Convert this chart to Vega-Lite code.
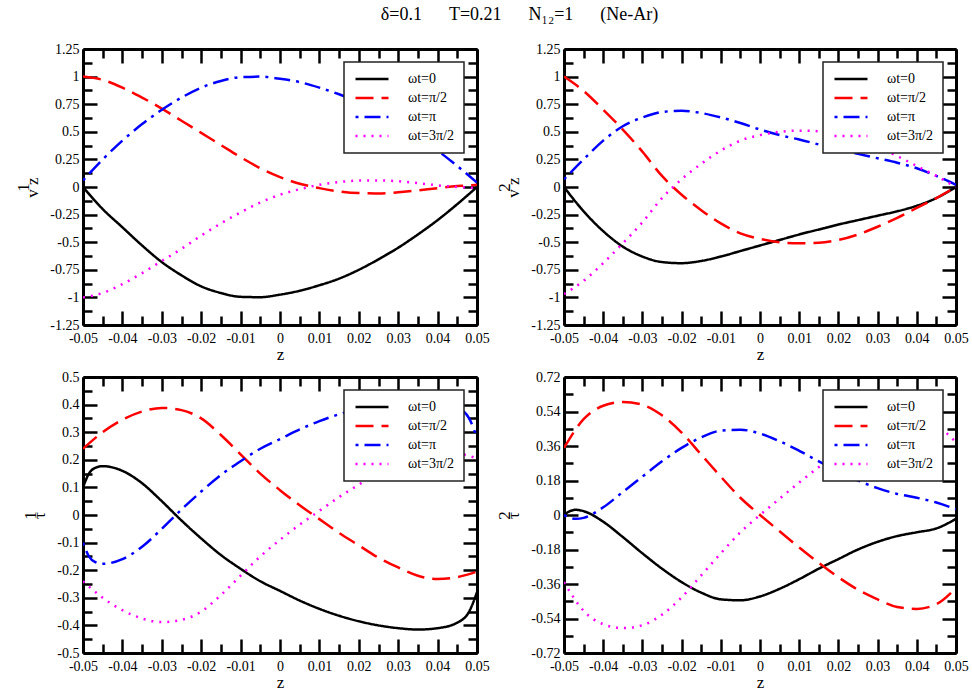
{
"$schema": "https://vega.github.io/schema/vega-lite/v6.json",
"padding": {"left": 14, "top": 6, "right": 5, "bottom": 0},
"title": {"text": "δ=0.1\u00a0\u00a0\u00a0\u00a0\u00a0\u00a0T=0.21\u00a0\u00a0\u00a0\u00a0\u00a0\u00a0N₁₂=1\u00a0\u00a0\u00a0\u00a0\u00a0\u00a0(Ne-Ar)", "font": "Liberation Serif", "fontSize": 18, "fontWeight": "normal", "color": "black", "anchor": "middle", "offset": 18, "dx": 28},
"datasets": {
"v1": [
{"series":"ωt=0","z":-0.05,"value":0},{"series":"ωt=0","z":-0.045,"value":-0.2},{"series":"ωt=0","z":-0.04,"value":-0.365},{"series":"ωt=0","z":-0.035,"value":-0.53},{"series":"ωt=0","z":-0.03,"value":-0.68},{"series":"ωt=0","z":-0.025,"value":-0.8},{"series":"ωt=0","z":-0.02,"value":-0.9},{"series":"ωt=0","z":-0.015,"value":-0.96},{"series":"ωt=0","z":-0.01,"value":-0.995},{"series":"ωt=0","z":-0.005,"value":-0.998},{"series":"ωt=0","z":0,"value":-0.975},{"series":"ωt=0","z":0.005,"value":-0.94},{"series":"ωt=0","z":0.01,"value":-0.89},{"series":"ωt=0","z":0.015,"value":-0.83},{"series":"ωt=0","z":0.02,"value":-0.75},{"series":"ωt=0","z":0.025,"value":-0.655},{"series":"ωt=0","z":0.03,"value":-0.55},{"series":"ωt=0","z":0.035,"value":-0.43},{"series":"ωt=0","z":0.04,"value":-0.3},{"series":"ωt=0","z":0.045,"value":-0.155},{"series":"ωt=0","z":0.05,"value":0},
{"series":"ωt=π/2","z":-0.05,"value":1},{"series":"ωt=π/2","z":-0.045,"value":0.97},{"series":"ωt=π/2","z":-0.04,"value":0.9},{"series":"ωt=π/2","z":-0.035,"value":0.81},{"series":"ωt=π/2","z":-0.03,"value":0.71},{"series":"ωt=π/2","z":-0.025,"value":0.6},{"series":"ωt=π/2","z":-0.02,"value":0.49},{"series":"ωt=π/2","z":-0.015,"value":0.38},{"series":"ωt=π/2","z":-0.01,"value":0.27},{"series":"ωt=π/2","z":-0.005,"value":0.17},{"series":"ωt=π/2","z":0,"value":0.09},{"series":"ωt=π/2","z":0.005,"value":0.03},{"series":"ωt=π/2","z":0.01,"value":-0.01},{"series":"ωt=π/2","z":0.015,"value":-0.04},{"series":"ωt=π/2","z":0.02,"value":-0.055},{"series":"ωt=π/2","z":0.025,"value":-0.058},{"series":"ωt=π/2","z":0.03,"value":-0.048},{"series":"ωt=π/2","z":0.035,"value":-0.03},{"series":"ωt=π/2","z":0.04,"value":-0.01},{"series":"ωt=π/2","z":0.045,"value":0.008},{"series":"ωt=π/2","z":0.05,"value":0.02},
{"series":"ωt=π","z":-0.05,"value":0.06},{"series":"ωt=π","z":-0.045,"value":0.25},{"series":"ωt=π","z":-0.04,"value":0.42},{"series":"ωt=π","z":-0.035,"value":0.57},{"series":"ωt=π","z":-0.03,"value":0.7},{"series":"ωt=π","z":-0.025,"value":0.81},{"series":"ωt=π","z":-0.02,"value":0.9},{"series":"ωt=π","z":-0.015,"value":0.96},{"series":"ωt=π","z":-0.01,"value":0.995},{"series":"ωt=π","z":-0.005,"value":1.0},{"series":"ωt=π","z":0,"value":0.98},{"series":"ωt=π","z":0.005,"value":0.95},{"series":"ωt=π","z":0.01,"value":0.9},{"series":"ωt=π","z":0.015,"value":0.84},{"series":"ωt=π","z":0.02,"value":0.77},{"series":"ωt=π","z":0.025,"value":0.68},{"series":"ωt=π","z":0.03,"value":0.58},{"series":"ωt=π","z":0.035,"value":0.46},{"series":"ωt=π","z":0.04,"value":0.33},{"series":"ωt=π","z":0.045,"value":0.19},{"series":"ωt=π","z":0.05,"value":0.04},
{"series":"ωt=3π/2","z":-0.05,"value":-1},{"series":"ωt=3π/2","z":-0.045,"value":-0.96},{"series":"ωt=3π/2","z":-0.04,"value":-0.88},{"series":"ωt=3π/2","z":-0.035,"value":-0.78},{"series":"ωt=3π/2","z":-0.03,"value":-0.67},{"series":"ωt=3π/2","z":-0.025,"value":-0.56},{"series":"ωt=3π/2","z":-0.02,"value":-0.44},{"series":"ωt=3π/2","z":-0.015,"value":-0.33},{"series":"ωt=3π/2","z":-0.01,"value":-0.23},{"series":"ωt=3π/2","z":-0.005,"value":-0.14},{"series":"ωt=3π/2","z":0,"value":-0.07},{"series":"ωt=3π/2","z":0.005,"value":-0.02},{"series":"ωt=3π/2","z":0.01,"value":0.02},{"series":"ωt=3π/2","z":0.015,"value":0.045},{"series":"ωt=3π/2","z":0.02,"value":0.058},{"series":"ωt=3π/2","z":0.025,"value":0.06},{"series":"ωt=3π/2","z":0.03,"value":0.052},{"series":"ωt=3π/2","z":0.035,"value":0.035},{"series":"ωt=3π/2","z":0.04,"value":0.015},{"series":"ωt=3π/2","z":0.045,"value":0},{"series":"ωt=3π/2","z":0.05,"value":-0.01}
],
"v2": [
{"series":"ωt=0","z":-0.05,"value":0},{"series":"ωt=0","z":-0.045,"value":-0.22},{"series":"ωt=0","z":-0.04,"value":-0.4},{"series":"ωt=0","z":-0.035,"value":-0.54},{"series":"ωt=0","z":-0.03,"value":-0.63},{"series":"ωt=0","z":-0.025,"value":-0.68},{"series":"ωt=0","z":-0.02,"value":-0.69},{"series":"ωt=0","z":-0.015,"value":-0.67},{"series":"ωt=0","z":-0.01,"value":-0.63},{"series":"ωt=0","z":-0.005,"value":-0.58},{"series":"ωt=0","z":0,"value":-0.53},{"series":"ωt=0","z":0.005,"value":-0.48},{"series":"ωt=0","z":0.01,"value":-0.43},{"series":"ωt=0","z":0.015,"value":-0.385},{"series":"ωt=0","z":0.02,"value":-0.34},{"series":"ωt=0","z":0.025,"value":-0.3},{"series":"ωt=0","z":0.03,"value":-0.26},{"series":"ωt=0","z":0.035,"value":-0.22},{"series":"ωt=0","z":0.04,"value":-0.17},{"series":"ωt=0","z":0.045,"value":-0.1},{"series":"ωt=0","z":0.05,"value":0},
{"series":"ωt=π/2","z":-0.05,"value":1},{"series":"ωt=π/2","z":-0.045,"value":0.87},{"series":"ωt=π/2","z":-0.04,"value":0.7},{"series":"ωt=π/2","z":-0.035,"value":0.52},{"series":"ωt=π/2","z":-0.03,"value":0.32},{"series":"ωt=π/2","z":-0.025,"value":0.1},{"series":"ωt=π/2","z":-0.02,"value":-0.07},{"series":"ωt=π/2","z":-0.015,"value":-0.21},{"series":"ωt=π/2","z":-0.01,"value":-0.33},{"series":"ωt=π/2","z":-0.005,"value":-0.42},{"series":"ωt=π/2","z":0,"value":-0.47},{"series":"ωt=π/2","z":0.005,"value":-0.5},{"series":"ωt=π/2","z":0.01,"value":-0.51},{"series":"ωt=π/2","z":0.015,"value":-0.505},{"series":"ωt=π/2","z":0.02,"value":-0.48},{"series":"ωt=π/2","z":0.025,"value":-0.43},{"series":"ωt=π/2","z":0.03,"value":-0.36},{"series":"ωt=π/2","z":0.035,"value":-0.28},{"series":"ωt=π/2","z":0.04,"value":-0.19},{"series":"ωt=π/2","z":0.045,"value":-0.1},{"series":"ωt=π/2","z":0.05,"value":0},
{"series":"ωt=π","z":-0.05,"value":0.07},{"series":"ωt=π","z":-0.045,"value":0.25},{"series":"ωt=π","z":-0.04,"value":0.42},{"series":"ωt=π","z":-0.035,"value":0.55},{"series":"ωt=π","z":-0.03,"value":0.63},{"series":"ωt=π","z":-0.025,"value":0.68},{"series":"ωt=π","z":-0.02,"value":0.69},{"series":"ωt=π","z":-0.015,"value":0.67},{"series":"ωt=π","z":-0.01,"value":0.63},{"series":"ωt=π","z":-0.005,"value":0.58},{"series":"ωt=π","z":0,"value":0.52},{"series":"ωt=π","z":0.005,"value":0.47},{"series":"ωt=π","z":0.01,"value":0.43},{"series":"ωt=π","z":0.015,"value":0.385},{"series":"ωt=π","z":0.02,"value":0.34},{"series":"ωt=π","z":0.025,"value":0.3},{"series":"ωt=π","z":0.03,"value":0.26},{"series":"ωt=π","z":0.035,"value":0.22},{"series":"ωt=π","z":0.04,"value":0.17},{"series":"ωt=π","z":0.045,"value":0.1},{"series":"ωt=π","z":0.05,"value":0.02},
{"series":"ωt=3π/2","z":-0.05,"value":-0.97},{"series":"ωt=3π/2","z":-0.045,"value":-0.85},{"series":"ωt=3π/2","z":-0.04,"value":-0.69},{"series":"ωt=3π/2","z":-0.035,"value":-0.51},{"series":"ωt=3π/2","z":-0.03,"value":-0.32},{"series":"ωt=3π/2","z":-0.025,"value":-0.1},{"series":"ωt=3π/2","z":-0.02,"value":0.07},{"series":"ωt=3π/2","z":-0.015,"value":0.21},{"series":"ωt=3π/2","z":-0.01,"value":0.33},{"series":"ωt=3π/2","z":-0.005,"value":0.42},{"series":"ωt=3π/2","z":0,"value":0.47},{"series":"ωt=3π/2","z":0.005,"value":0.5},{"series":"ωt=3π/2","z":0.01,"value":0.51},{"series":"ωt=3π/2","z":0.015,"value":0.505},{"series":"ωt=3π/2","z":0.02,"value":0.48},{"series":"ωt=3π/2","z":0.025,"value":0.43},{"series":"ωt=3π/2","z":0.03,"value":0.36},{"series":"ωt=3π/2","z":0.035,"value":0.28},{"series":"ωt=3π/2","z":0.04,"value":0.19},{"series":"ωt=3π/2","z":0.045,"value":0.1},{"series":"ωt=3π/2","z":0.05,"value":0}
],
"t1": [
{"series":"ωt=0","z":-0.05,"value":0.1},{"series":"ωt=0","z":-0.0485,"value":0.15},{"series":"ωt=0","z":-0.047,"value":0.17},{"series":"ωt=0","z":-0.045,"value":0.177},{"series":"ωt=0","z":-0.04,"value":0.16},{"series":"ωt=0","z":-0.035,"value":0.115},{"series":"ωt=0","z":-0.03,"value":0.05},{"series":"ωt=0","z":-0.025,"value":-0.02},{"series":"ωt=0","z":-0.02,"value":-0.085},{"series":"ωt=0","z":-0.015,"value":-0.145},{"series":"ωt=0","z":-0.01,"value":-0.195},{"series":"ωt=0","z":-0.005,"value":-0.24},{"series":"ωt=0","z":0,"value":-0.275},{"series":"ωt=0","z":0.005,"value":-0.31},{"series":"ωt=0","z":0.01,"value":-0.34},{"series":"ωt=0","z":0.015,"value":-0.365},{"series":"ωt=0","z":0.02,"value":-0.385},{"series":"ωt=0","z":0.025,"value":-0.4},{"series":"ωt=0","z":0.03,"value":-0.41},{"series":"ωt=0","z":0.035,"value":-0.415},{"series":"ωt=0","z":0.04,"value":-0.41},{"series":"ωt=0","z":0.045,"value":-0.39},{"series":"ωt=0","z":0.048,"value":-0.35},{"series":"ωt=0","z":0.05,"value":-0.28},
{"series":"ωt=π/2","z":-0.05,"value":0.24},{"series":"ωt=π/2","z":-0.045,"value":0.3},{"series":"ωt=π/2","z":-0.04,"value":0.345},{"series":"ωt=π/2","z":-0.035,"value":0.375},{"series":"ωt=π/2","z":-0.03,"value":0.388},{"series":"ωt=π/2","z":-0.025,"value":0.38},{"series":"ωt=π/2","z":-0.02,"value":0.35},{"series":"ωt=π/2","z":-0.015,"value":0.29},{"series":"ωt=π/2","z":-0.01,"value":0.22},{"series":"ωt=π/2","z":-0.005,"value":0.15},{"series":"ωt=π/2","z":0,"value":0.09},{"series":"ωt=π/2","z":0.005,"value":0.035},{"series":"ωt=π/2","z":0.01,"value":-0.015},{"series":"ωt=π/2","z":0.015,"value":-0.065},{"series":"ωt=π/2","z":0.02,"value":-0.11},{"series":"ωt=π/2","z":0.025,"value":-0.155},{"series":"ωt=π/2","z":0.03,"value":-0.19},{"series":"ωt=π/2","z":0.035,"value":-0.22},{"series":"ωt=π/2","z":0.04,"value":-0.232},{"series":"ωt=π/2","z":0.045,"value":-0.225},{"series":"ωt=π/2","z":0.05,"value":-0.205},
{"series":"ωt=π","z":-0.05,"value":-0.1},{"series":"ωt=π","z":-0.0485,"value":-0.15},{"series":"ωt=π","z":-0.047,"value":-0.17},{"series":"ωt=π","z":-0.045,"value":-0.177},{"series":"ωt=π","z":-0.04,"value":-0.16},{"series":"ωt=π","z":-0.035,"value":-0.115},{"series":"ωt=π","z":-0.03,"value":-0.05},{"series":"ωt=π","z":-0.025,"value":0.02},{"series":"ωt=π","z":-0.02,"value":0.085},{"series":"ωt=π","z":-0.015,"value":0.145},{"series":"ωt=π","z":-0.01,"value":0.195},{"series":"ωt=π","z":-0.005,"value":0.24},{"series":"ωt=π","z":0,"value":0.275},{"series":"ωt=π","z":0.005,"value":0.31},{"series":"ωt=π","z":0.01,"value":0.34},{"series":"ωt=π","z":0.015,"value":0.365},{"series":"ωt=π","z":0.02,"value":0.385},{"series":"ωt=π","z":0.025,"value":0.4},{"series":"ωt=π","z":0.03,"value":0.41},{"series":"ωt=π","z":0.035,"value":0.415},{"series":"ωt=π","z":0.04,"value":0.41},{"series":"ωt=π","z":0.045,"value":0.39},{"series":"ωt=π","z":0.048,"value":0.35},{"series":"ωt=π","z":0.05,"value":0.28},
{"series":"ωt=3π/2","z":-0.05,"value":-0.24},{"series":"ωt=3π/2","z":-0.045,"value":-0.3},{"series":"ωt=3π/2","z":-0.04,"value":-0.345},{"series":"ωt=3π/2","z":-0.035,"value":-0.375},{"series":"ωt=3π/2","z":-0.03,"value":-0.388},{"series":"ωt=3π/2","z":-0.025,"value":-0.38},{"series":"ωt=3π/2","z":-0.02,"value":-0.35},{"series":"ωt=3π/2","z":-0.015,"value":-0.29},{"series":"ωt=3π/2","z":-0.01,"value":-0.22},{"series":"ωt=3π/2","z":-0.005,"value":-0.15},{"series":"ωt=3π/2","z":0,"value":-0.09},{"series":"ωt=3π/2","z":0.005,"value":-0.035},{"series":"ωt=3π/2","z":0.01,"value":0.015},{"series":"ωt=3π/2","z":0.015,"value":0.065},{"series":"ωt=3π/2","z":0.02,"value":0.11},{"series":"ωt=3π/2","z":0.025,"value":0.155},{"series":"ωt=3π/2","z":0.03,"value":0.19},{"series":"ωt=3π/2","z":0.035,"value":0.22},{"series":"ωt=3π/2","z":0.04,"value":0.232},{"series":"ωt=3π/2","z":0.045,"value":0.225},{"series":"ωt=3π/2","z":0.05,"value":0.205}
],
"t2": [
{"series":"ωt=0","z":-0.05,"value":0},{"series":"ωt=0","z":-0.0485,"value":0.02},{"series":"ωt=0","z":-0.047,"value":0.027},{"series":"ωt=0","z":-0.045,"value":0.02},{"series":"ωt=0","z":-0.04,"value":-0.035},{"series":"ωt=0","z":-0.035,"value":-0.115},{"series":"ωt=0","z":-0.03,"value":-0.2},{"series":"ωt=0","z":-0.025,"value":-0.28},{"series":"ωt=0","z":-0.02,"value":-0.35},{"series":"ωt=0","z":-0.015,"value":-0.405},{"series":"ωt=0","z":-0.01,"value":-0.44},{"series":"ωt=0","z":-0.005,"value":-0.445},{"series":"ωt=0","z":0,"value":-0.425},{"series":"ωt=0","z":0.005,"value":-0.385},{"series":"ωt=0","z":0.01,"value":-0.335},{"series":"ωt=0","z":0.015,"value":-0.28},{"series":"ωt=0","z":0.02,"value":-0.23},{"series":"ωt=0","z":0.025,"value":-0.18},{"series":"ωt=0","z":0.03,"value":-0.14},{"series":"ωt=0","z":0.035,"value":-0.11},{"series":"ωt=0","z":0.04,"value":-0.09},{"series":"ωt=0","z":0.045,"value":-0.07},{"series":"ωt=0","z":0.05,"value":-0.02},
{"series":"ωt=π/2","z":-0.05,"value":0.35},{"series":"ωt=π/2","z":-0.045,"value":0.5},{"series":"ωt=π/2","z":-0.04,"value":0.57},{"series":"ωt=π/2","z":-0.035,"value":0.59},{"series":"ωt=π/2","z":-0.03,"value":0.575},{"series":"ωt=π/2","z":-0.025,"value":0.52},{"series":"ωt=π/2","z":-0.02,"value":0.43},{"series":"ωt=π/2","z":-0.015,"value":0.315},{"series":"ωt=π/2","z":-0.01,"value":0.2},{"series":"ωt=π/2","z":-0.005,"value":0.09},{"series":"ωt=π/2","z":0,"value":0},{"series":"ωt=π/2","z":0.005,"value":-0.085},{"series":"ωt=π/2","z":0.01,"value":-0.17},{"series":"ωt=π/2","z":0.015,"value":-0.25},{"series":"ωt=π/2","z":0.02,"value":-0.325},{"series":"ωt=π/2","z":0.025,"value":-0.39},{"series":"ωt=π/2","z":0.03,"value":-0.44},{"series":"ωt=π/2","z":0.035,"value":-0.48},{"series":"ωt=π/2","z":0.04,"value":-0.49},{"series":"ωt=π/2","z":0.045,"value":-0.465},{"series":"ωt=π/2","z":0.05,"value":-0.38},
{"series":"ωt=π","z":-0.05,"value":0},{"series":"ωt=π","z":-0.0485,"value":-0.015},{"series":"ωt=π","z":-0.047,"value":-0.02},{"series":"ωt=π","z":-0.045,"value":-0.015},{"series":"ωt=π","z":-0.04,"value":0.04},{"series":"ωt=π","z":-0.035,"value":0.12},{"series":"ωt=π","z":-0.03,"value":0.2},{"series":"ωt=π","z":-0.025,"value":0.28},{"series":"ωt=π","z":-0.02,"value":0.35},{"series":"ωt=π","z":-0.015,"value":0.405},{"series":"ωt=π","z":-0.01,"value":0.44},{"series":"ωt=π","z":-0.005,"value":0.445},{"series":"ωt=π","z":0,"value":0.425},{"series":"ωt=π","z":0.005,"value":0.385},{"series":"ωt=π","z":0.01,"value":0.335},{"series":"ωt=π","z":0.015,"value":0.28},{"series":"ωt=π","z":0.02,"value":0.23},{"series":"ωt=π","z":0.025,"value":0.18},{"series":"ωt=π","z":0.03,"value":0.14},{"series":"ωt=π","z":0.035,"value":0.11},{"series":"ωt=π","z":0.04,"value":0.09},{"series":"ωt=π","z":0.045,"value":0.065},{"series":"ωt=π","z":0.05,"value":0.03},
{"series":"ωt=3π/2","z":-0.05,"value":-0.35},{"series":"ωt=3π/2","z":-0.045,"value":-0.5},{"series":"ωt=3π/2","z":-0.04,"value":-0.57},{"series":"ωt=3π/2","z":-0.035,"value":-0.59},{"series":"ωt=3π/2","z":-0.03,"value":-0.575},{"series":"ωt=3π/2","z":-0.025,"value":-0.52},{"series":"ωt=3π/2","z":-0.02,"value":-0.43},{"series":"ωt=3π/2","z":-0.015,"value":-0.315},{"series":"ωt=3π/2","z":-0.01,"value":-0.2},{"series":"ωt=3π/2","z":-0.005,"value":-0.09},{"series":"ωt=3π/2","z":0,"value":0},{"series":"ωt=3π/2","z":0.005,"value":0.085},{"series":"ωt=3π/2","z":0.01,"value":0.17},{"series":"ωt=3π/2","z":0.015,"value":0.25},{"series":"ωt=3π/2","z":0.02,"value":0.325},{"series":"ωt=3π/2","z":0.025,"value":0.39},{"series":"ωt=3π/2","z":0.03,"value":0.44},{"series":"ωt=3π/2","z":0.035,"value":0.48},{"series":"ωt=3π/2","z":0.04,"value":0.49},{"series":"ωt=3π/2","z":0.045,"value":0.465},{"series":"ωt=3π/2","z":0.05,"value":0.38}
]
},
"columns": 2,
"spacing": {"row": 8, "column": 5},
"resolve": {"scale": {"color": "independent", "strokeDash": "independent"}},
"concat": [
{
"width": 394, "height": 276,
"data": {"name": "v1"},
"layer": [
{"mark": {"type": "line", "strokeWidth": 2.5, "interpolate": "monotone", "clip": true},
 "encoding": {
  "x": {"field": "z", "type": "quantitative", "scale": {"domain": [-0.05, 0.05], "nice": false, "zero": false}, "axis": {"orient": "bottom", "values": [-0.05,-0.04,-0.03,-0.02,-0.01,0,0.01,0.02,0.03,0.04,0.05], "labelExpr": "'' + datum.value", "tickSize": -14, "labelPadding": 20, "title": "z", "titlePadding": 1}},
  "y": {"field": "value", "type": "quantitative", "scale": {"domain": [-1.25, 1.25], "nice": false, "zero": false}, "axis": {"orient": "left", "values": [-1.25,-1,-0.75,-0.5,-0.25,0,0.25,0.5,0.75,1,1.25], "labelExpr": "'' + datum.value", "tickSize": -14, "labelPadding": 18, "title": ["\u00a0\u00a01", "v z"], "titlePadding": 8}},
  "color": {"field": "series", "type": "nominal", "scale": {"domain": ["ωt=0","ωt=π/2","ωt=π","ωt=3π/2"], "range": ["#000000","#ff0000","#0000ff","#ff00ff"]}},
  "strokeDash": {"field": "series", "type": "nominal", "scale": {"domain": ["ωt=0","ωt=π/2","ωt=π","ωt=3π/2"], "range": [[1,0],[18,8],[3,6,16,6],[2,6]]}}
 }},
{"mark": {"type": "point", "opacity": 0},
 "encoding": {
  "x": {"field": "z", "type": "quantitative", "scale": {"domain": [-0.05, 0.05], "nice": false, "zero": false}, "axis": {"orient": "top", "values": [-0.05,-0.04,-0.03,-0.02,-0.01,0,0.01,0.02,0.03,0.04,0.05], "labels": false, "tickSize": -14, "title": null}},
  "y": {"field": "value", "type": "quantitative", "scale": {"domain": [-1.25, 1.25], "nice": false, "zero": false}, "axis": {"orient": "right", "values": [-1.25,-1,-0.75,-0.5,-0.25,0,0.25,0.5,0.75,1,1.25], "labels": false, "tickSize": -14, "title": null}}
 }},
{"mark": {"type": "point", "opacity": 0},
 "encoding": {
  "x": {"field": "z", "type": "quantitative", "scale": {"domain": [-0.05, 0.05], "nice": false, "zero": false}, "axis": {"orient": "bottom", "values": [-0.045,-0.035,-0.025,-0.015,-0.005,0.005,0.015,0.025,0.035,0.045], "labels": false, "domain": false, "tickSize": -9, "title": null}},
  "y": {"field": "value", "type": "quantitative", "scale": {"domain": [-1.25, 1.25], "nice": false, "zero": false}, "axis": {"orient": "left", "values": [-1.125,-0.875,-0.625,-0.375,-0.125,0.125,0.375,0.625,0.875,1.125], "labels": false, "domain": false, "tickSize": -9, "title": null}}
 }},
{"mark": {"type": "point", "opacity": 0},
 "encoding": {
  "x": {"field": "z", "type": "quantitative", "scale": {"domain": [-0.05, 0.05], "nice": false, "zero": false}, "axis": {"orient": "top", "values": [-0.045,-0.035,-0.025,-0.015,-0.005,0.005,0.015,0.025,0.035,0.045], "labels": false, "domain": false, "tickSize": -9, "title": null}},
  "y": {"field": "value", "type": "quantitative", "scale": {"domain": [-1.25, 1.25], "nice": false, "zero": false}, "axis": {"orient": "right", "values": [-1.125,-0.875,-0.625,-0.375,-0.125,0.125,0.375,0.625,0.875,1.125], "labels": false, "domain": false, "tickSize": -9, "title": null}}
 }}
]
},
{
"width": 392, "height": 276,
"data": {"name": "v2"},
"layer": [
{"mark": {"type": "line", "strokeWidth": 2.5, "interpolate": "monotone", "clip": true},
 "encoding": {
  "x": {"field": "z", "type": "quantitative", "scale": {"domain": [-0.05, 0.05], "nice": false, "zero": false}, "axis": {"orient": "bottom", "values": [-0.05,-0.04,-0.03,-0.02,-0.01,0,0.01,0.02,0.03,0.04,0.05], "labelExpr": "'' + datum.value", "tickSize": -14, "labelPadding": 20, "title": "z", "titlePadding": 1}},
  "y": {"field": "value", "type": "quantitative", "scale": {"domain": [-1.25, 1.25], "nice": false, "zero": false}, "axis": {"orient": "left", "values": [-1.25,-1,-0.75,-0.5,-0.25,0,0.25,0.5,0.75,1,1.25], "labelExpr": "'' + datum.value", "tickSize": -14, "labelPadding": 18, "title": ["\u00a0\u00a02", "v z"], "titlePadding": 8}},
  "color": {"field": "series", "type": "nominal", "scale": {"domain": ["ωt=0","ωt=π/2","ωt=π","ωt=3π/2"], "range": ["#000000","#ff0000","#0000ff","#ff00ff"]}},
  "strokeDash": {"field": "series", "type": "nominal", "scale": {"domain": ["ωt=0","ωt=π/2","ωt=π","ωt=3π/2"], "range": [[1,0],[18,8],[3,6,16,6],[2,6]]}}
 }},
{"mark": {"type": "point", "opacity": 0},
 "encoding": {
  "x": {"field": "z", "type": "quantitative", "scale": {"domain": [-0.05, 0.05], "nice": false, "zero": false}, "axis": {"orient": "top", "values": [-0.05,-0.04,-0.03,-0.02,-0.01,0,0.01,0.02,0.03,0.04,0.05], "labels": false, "tickSize": -14, "title": null}},
  "y": {"field": "value", "type": "quantitative", "scale": {"domain": [-1.25, 1.25], "nice": false, "zero": false}, "axis": {"orient": "right", "values": [-1.25,-1,-0.75,-0.5,-0.25,0,0.25,0.5,0.75,1,1.25], "labels": false, "tickSize": -14, "title": null}}
 }},
{"mark": {"type": "point", "opacity": 0},
 "encoding": {
  "x": {"field": "z", "type": "quantitative", "scale": {"domain": [-0.05, 0.05], "nice": false, "zero": false}, "axis": {"orient": "bottom", "values": [-0.045,-0.035,-0.025,-0.015,-0.005,0.005,0.015,0.025,0.035,0.045], "labels": false, "domain": false, "tickSize": -9, "title": null}},
  "y": {"field": "value", "type": "quantitative", "scale": {"domain": [-1.25, 1.25], "nice": false, "zero": false}, "axis": {"orient": "left", "values": [-1.125,-0.875,-0.625,-0.375,-0.125,0.125,0.375,0.625,0.875,1.125], "labels": false, "domain": false, "tickSize": -9, "title": null}}
 }},
{"mark": {"type": "point", "opacity": 0},
 "encoding": {
  "x": {"field": "z", "type": "quantitative", "scale": {"domain": [-0.05, 0.05], "nice": false, "zero": false}, "axis": {"orient": "top", "values": [-0.045,-0.035,-0.025,-0.015,-0.005,0.005,0.015,0.025,0.035,0.045], "labels": false, "domain": false, "tickSize": -9, "title": null}},
  "y": {"field": "value", "type": "quantitative", "scale": {"domain": [-1.25, 1.25], "nice": false, "zero": false}, "axis": {"orient": "right", "values": [-1.125,-0.875,-0.625,-0.375,-0.125,0.125,0.375,0.625,0.875,1.125], "labels": false, "domain": false, "tickSize": -9, "title": null}}
 }}
]
},
{
"width": 394, "height": 276,
"data": {"name": "t1"},
"layer": [
{"mark": {"type": "line", "strokeWidth": 2.5, "interpolate": "monotone", "clip": true},
 "encoding": {
  "x": {"field": "z", "type": "quantitative", "scale": {"domain": [-0.05, 0.05], "nice": false, "zero": false}, "axis": {"orient": "bottom", "values": [-0.05,-0.04,-0.03,-0.02,-0.01,0,0.01,0.02,0.03,0.04,0.05], "labelExpr": "'' + datum.value", "tickSize": -14, "labelPadding": 20, "title": "z", "titlePadding": 1}},
  "y": {"field": "value", "type": "quantitative", "scale": {"domain": [-0.5, 0.5], "nice": false, "zero": false}, "axis": {"orient": "left", "values": [-0.5,-0.4,-0.3,-0.2,-0.1,0,0.1,0.2,0.3,0.4,0.5], "labelExpr": "'' + datum.value", "tickSize": -14, "labelPadding": 18, "title": ["\u00a0\u00a01", "τ"], "titlePadding": 8}},
  "color": {"field": "series", "type": "nominal", "scale": {"domain": ["ωt=0","ωt=π/2","ωt=π","ωt=3π/2"], "range": ["#000000","#ff0000","#0000ff","#ff00ff"]}},
  "strokeDash": {"field": "series", "type": "nominal", "scale": {"domain": ["ωt=0","ωt=π/2","ωt=π","ωt=3π/2"], "range": [[1,0],[18,8],[3,6,16,6],[2,6]]}}
 }},
{"mark": {"type": "point", "opacity": 0},
 "encoding": {
  "x": {"field": "z", "type": "quantitative", "scale": {"domain": [-0.05, 0.05], "nice": false, "zero": false}, "axis": {"orient": "top", "values": [-0.05,-0.04,-0.03,-0.02,-0.01,0,0.01,0.02,0.03,0.04,0.05], "labels": false, "tickSize": -14, "title": null}},
  "y": {"field": "value", "type": "quantitative", "scale": {"domain": [-0.5, 0.5], "nice": false, "zero": false}, "axis": {"orient": "right", "values": [-0.5,-0.4,-0.3,-0.2,-0.1,0,0.1,0.2,0.3,0.4,0.5], "labels": false, "tickSize": -14, "title": null}}
 }},
{"mark": {"type": "point", "opacity": 0},
 "encoding": {
  "x": {"field": "z", "type": "quantitative", "scale": {"domain": [-0.05, 0.05], "nice": false, "zero": false}, "axis": {"orient": "bottom", "values": [-0.045,-0.035,-0.025,-0.015,-0.005,0.005,0.015,0.025,0.035,0.045], "labels": false, "domain": false, "tickSize": -9, "title": null}},
  "y": {"field": "value", "type": "quantitative", "scale": {"domain": [-0.5, 0.5], "nice": false, "zero": false}, "axis": {"orient": "left", "values": [-0.45,-0.35,-0.25,-0.15,-0.05,0.05,0.15,0.25,0.35,0.45], "labels": false, "domain": false, "tickSize": -9, "title": null}}
 }},
{"mark": {"type": "point", "opacity": 0},
 "encoding": {
  "x": {"field": "z", "type": "quantitative", "scale": {"domain": [-0.05, 0.05], "nice": false, "zero": false}, "axis": {"orient": "top", "values": [-0.045,-0.035,-0.025,-0.015,-0.005,0.005,0.015,0.025,0.035,0.045], "labels": false, "domain": false, "tickSize": -9, "title": null}},
  "y": {"field": "value", "type": "quantitative", "scale": {"domain": [-0.5, 0.5], "nice": false, "zero": false}, "axis": {"orient": "right", "values": [-0.45,-0.35,-0.25,-0.15,-0.05,0.05,0.15,0.25,0.35,0.45], "labels": false, "domain": false, "tickSize": -9, "title": null}}
 }}
]
},
{
"width": 392, "height": 276,
"data": {"name": "t2"},
"layer": [
{"mark": {"type": "line", "strokeWidth": 2.5, "interpolate": "monotone", "clip": true},
 "encoding": {
  "x": {"field": "z", "type": "quantitative", "scale": {"domain": [-0.05, 0.05], "nice": false, "zero": false}, "axis": {"orient": "bottom", "values": [-0.05,-0.04,-0.03,-0.02,-0.01,0,0.01,0.02,0.03,0.04,0.05], "labelExpr": "'' + datum.value", "tickSize": -14, "labelPadding": 20, "title": "z", "titlePadding": 1}},
  "y": {"field": "value", "type": "quantitative", "scale": {"domain": [-0.72, 0.72], "nice": false, "zero": false}, "axis": {"orient": "left", "values": [-0.72,-0.54,-0.36,-0.18,0,0.18,0.36,0.54,0.72], "labelExpr": "'' + datum.value", "tickSize": -14, "labelPadding": 18, "title": ["\u00a0\u00a02", "τ"], "titlePadding": 8}},
  "color": {"field": "series", "type": "nominal", "scale": {"domain": ["ωt=0","ωt=π/2","ωt=π","ωt=3π/2"], "range": ["#000000","#ff0000","#0000ff","#ff00ff"]}},
  "strokeDash": {"field": "series", "type": "nominal", "scale": {"domain": ["ωt=0","ωt=π/2","ωt=π","ωt=3π/2"], "range": [[1,0],[18,8],[3,6,16,6],[2,6]]}}
 }},
{"mark": {"type": "point", "opacity": 0},
 "encoding": {
  "x": {"field": "z", "type": "quantitative", "scale": {"domain": [-0.05, 0.05], "nice": false, "zero": false}, "axis": {"orient": "top", "values": [-0.05,-0.04,-0.03,-0.02,-0.01,0,0.01,0.02,0.03,0.04,0.05], "labels": false, "tickSize": -14, "title": null}},
  "y": {"field": "value", "type": "quantitative", "scale": {"domain": [-0.72, 0.72], "nice": false, "zero": false}, "axis": {"orient": "right", "values": [-0.72,-0.54,-0.36,-0.18,0,0.18,0.36,0.54,0.72], "labels": false, "tickSize": -14, "title": null}}
 }},
{"mark": {"type": "point", "opacity": 0},
 "encoding": {
  "x": {"field": "z", "type": "quantitative", "scale": {"domain": [-0.05, 0.05], "nice": false, "zero": false}, "axis": {"orient": "bottom", "values": [-0.045,-0.035,-0.025,-0.015,-0.005,0.005,0.015,0.025,0.035,0.045], "labels": false, "domain": false, "tickSize": -9, "title": null}},
  "y": {"field": "value", "type": "quantitative", "scale": {"domain": [-0.72, 0.72], "nice": false, "zero": false}, "axis": {"orient": "left", "values": [-0.63,-0.45,-0.27,-0.09,0.09,0.27,0.45,0.63], "labels": false, "domain": false, "tickSize": -9, "title": null}}
 }},
{"mark": {"type": "point", "opacity": 0},
 "encoding": {
  "x": {"field": "z", "type": "quantitative", "scale": {"domain": [-0.05, 0.05], "nice": false, "zero": false}, "axis": {"orient": "top", "values": [-0.045,-0.035,-0.025,-0.015,-0.005,0.005,0.015,0.025,0.035,0.045], "labels": false, "domain": false, "tickSize": -9, "title": null}},
  "y": {"field": "value", "type": "quantitative", "scale": {"domain": [-0.72, 0.72], "nice": false, "zero": false}, "axis": {"orient": "right", "values": [-0.63,-0.45,-0.27,-0.09,0.09,0.27,0.45,0.63], "labels": false, "domain": false, "tickSize": -9, "title": null}}
 }}
]
}
],
"config": {
 "view": {"stroke": null},
 "font": "Liberation Serif",
 "axis": {"grid": false, "labelFont": "Liberation Serif", "labelFontSize": 14, "labelColor": "black", "labelFlush": false, "labelOverlap": false, "titleFont": "Liberation Serif", "titleFontSize": 17, "titleFontWeight": "normal", "titleColor": "black", "titleLineHeight": 9, "tickColor": "black", "tickWidth": 2.5, "domainColor": "black", "domainWidth": 3},
 "legend": {"orient": "top-right", "offset": 13, "title": null, "strokeColor": "#222222", "strokeWidth": 1.5, "fillColor": "white", "padding": 10, "symbolType": "M-1,0H5", "symbolSize": 121, "symbolStrokeWidth": 2.5, "labelFont": "Liberation Serif", "labelFontSize": 14, "labelColor": "black", "labelOffset": 40, "rowPadding": 5}
}
}
